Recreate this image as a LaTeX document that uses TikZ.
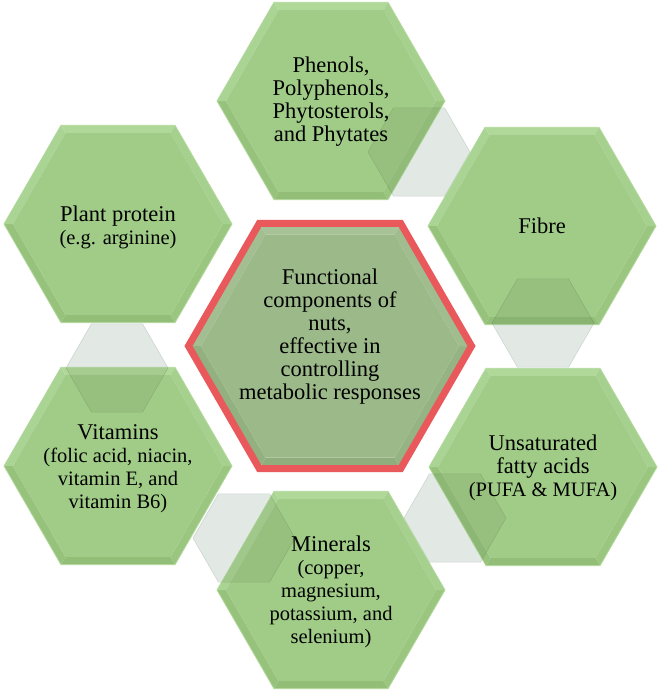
\documentclass[tikz,border=0pt]{standalone}
\usepackage{fontspec}
\setmainfont{Liberation Serif}
\definecolor{hmain}{HTML}{A0CC87}
\definecolor{cT}{HTML}{B0D899}
\definecolor{cUL}{HTML}{AAD493}
\definecolor{cUR}{HTML}{A5D08D}
\definecolor{cLR}{HTML}{9AC680}
\definecolor{cB}{HTML}{92BE78}
\definecolor{cLL}{HTML}{96C27C}
\definecolor{hline}{HTML}{B2D89C}
\definecolor{conng}{HTML}{E2E9E5}
\definecolor{connl}{HTML}{CCD5D0}
\definecolor{mmain}{HTML}{9CB98A}
\definecolor{mT}{HTML}{A7C296}
\definecolor{mUL}{HTML}{A3BF92}
\definecolor{mUR}{HTML}{A0BD8F}
\definecolor{mLR}{HTML}{95B383}
\definecolor{mB}{HTML}{8FAD7D}
\definecolor{mLL}{HTML}{92B080}
\definecolor{redb}{HTML}{E9585B}
\tikzset{
  lbl/.style={align=center, font=\fontsize{22.5}{23}\selectfont, inner sep=0pt, text=black},
  connst/.style={fill=conng, draw=connl, line width=0.6pt},
  overl/.style={fill=black, fill opacity=0.055, draw=black, draw opacity=0.1, line width=0.6pt},
}
\newcommand\dtl[1]{{\fontsize{20.5}{23}\selectfont #1}}
\newcommand\hexco[4]{\foreach \k in {0,...,5}{\coordinate (#1\k) at ({#2+#4*cos(60*\k)},{#3+#4*sin(60*\k)});}}
\newcommand\greenhex[3]{%
  \hexco{#1o}{#2}{#3}{114}%
  \hexco{#1i}{#2}{#3}{105}%
  \fill[cLR] (#1o0)--(#1o1)--(#1i1)--(#1i0)--cycle;
  \fill[cB]  (#1o1)--(#1o2)--(#1i2)--(#1i1)--cycle;
  \fill[cLL] (#1o2)--(#1o3)--(#1i3)--(#1i2)--cycle;
  \fill[cUL] (#1o3)--(#1o4)--(#1i4)--(#1i3)--cycle;
  \fill[cT]  (#1o4)--(#1o5)--(#1i5)--(#1i4)--cycle;
  \fill[cUR] (#1o5)--(#1o0)--(#1i0)--(#1i5)--cycle;
  \fill[hmain] (#1i0)--(#1i1)--(#1i2)--(#1i3)--(#1i4)--(#1i5)--cycle;
  \draw[hline, line width=0.8pt] (#1o0)--(#1o1)--(#1o2)--(#1o3)--(#1o4)--(#1o5)--cycle;
}
\newcommand\conn[3]{\hexco{#1}{#2}{#3}{51}\filldraw[connst] (#10)--(#11)--(#12)--(#13)--(#14)--(#15)--cycle;}
\newcommand\overlap[2]{\begin{scope}\clip (#2o0)--(#2o1)--(#2o2)--(#2o3)--(#2o4)--(#2o5)--cycle;
  \filldraw[overl] (#10)--(#11)--(#12)--(#13)--(#14)--(#15)--cycle;\end{scope}}
\begin{document}
\begin{tikzpicture}[x=1pt,y=-1pt]
\useasboundingbox (0,0) rectangle (661,693);
% connector hexagons
\conn{ca}{419}{152}
\conn{cb}{543}{323}
\conn{cc}{455}{518}
\conn{cd}{244}{538}
\conn{ce}{117}{368}
% outer hexagons
\greenhex{ph}{331}{101}
\greenhex{fi}{542}{226}
\greenhex{un}{543}{467}
\greenhex{mi}{331}{590}
\greenhex{vi}{118}{466}
\greenhex{pl}{118}{224}
% overlaps
\overlap{ca}{ph}
\overlap{cb}{fi}
\overlap{cc}{un}
\overlap{cd}{mi}
\overlap{ce}{vi}
% centre hexagon
\hexco{midr}{330}{346}{141.5}
\hexco{mido}{330}{346}{138}
\hexco{midi}{330}{346}{129}
\fill[mLR] (mido0)--(mido1)--(midi1)--(midi0)--cycle;
\fill[mB]  (mido1)--(mido2)--(midi2)--(midi1)--cycle;
\fill[mLL] (mido2)--(mido3)--(midi3)--(midi2)--cycle;
\fill[mUL] (mido3)--(mido4)--(midi4)--(midi3)--cycle;
\fill[mT]  (mido4)--(mido5)--(midi5)--(midi4)--cycle;
\fill[mUR] (mido5)--(mido0)--(midi0)--(midi5)--cycle;
\fill[mmain] (midi0)--(midi1)--(midi2)--(midi3)--(midi4)--(midi5)--cycle;
\draw[redb, line width=7pt, line join=miter] (midr0)--(midr1)--(midr2)--(midr3)--(midr4)--(midr5)--cycle;
% texts
\node[lbl] (phen) at (331,102) {Phenols,\\Polyphenols,\\Phytosterols,\\and Phytates};
\node[lbl] (fib) at (542,226) {Fibre};
\node[lbl] (uns) at (543,468) {Unsaturated\\fatty acids\\\dtl{(PUFA \& MUFA)}};
\node[lbl] (min) at (331,592) {Minerals\\\dtl{(copper,}\\\dtl{magnesium,}\\\dtl{potassium, and}\\\dtl{selenium)}};
\node[lbl] (vit) at (118,469) {Vitamins\\\dtl{(folic acid, niacin,}\\\dtl{vitamin E, and}\\\dtl{vitamin B6)}};
\node[lbl] (pla) at (118,227) {Plant protein\\\dtl{(e.g. arginine)}};
\node[lbl] (cen) at (330,337) {Functional\\components of\\nuts,\\effective in\\controlling\\metabolic responses};
\end{tikzpicture}
\end{document}
